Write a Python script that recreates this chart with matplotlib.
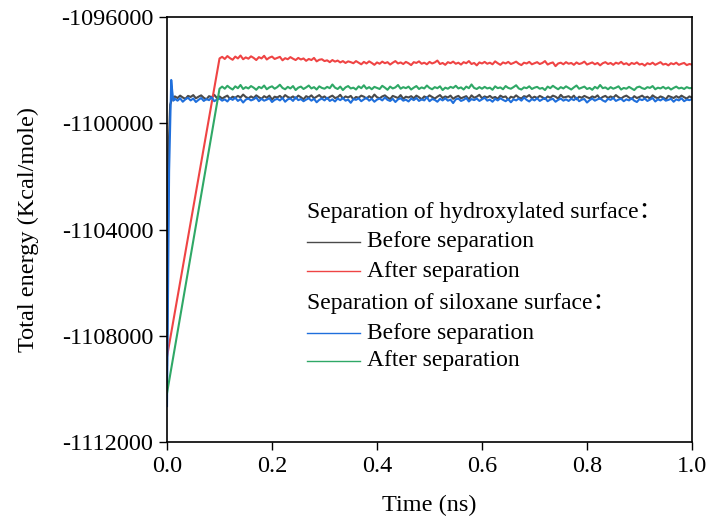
import numpy as np
import matplotlib
matplotlib.use("Agg")
import matplotlib.pyplot as plt
from matplotlib.ticker import FuncFormatter

plt.rcParams['font.family'] = ['Liberation Serif', 'Noto Sans CJK SC', 'DejaVu Sans']
plt.rcParams['axes.unicode_minus'] = False

# --- data ---
# hydroxylated surface, before separation (black)
hyd_before_head_t = [0.0, 0.003, 0.006, 0.010]
hyd_before_head_e = [-1109100, -1101000, -1099300, -1099050]
hyd_before_e = [
    -1098990, -1099050, -1098960, -1099030, -1099080, -1098970, -1099010, -1098940, -1099060, -1099000,
    -1098950, -1099040, -1099100, -1098980, -1099020, -1098930, -1099050, -1098990, -1099070, -1099010,
    -1098960, -1099090, -1099000, -1099040, -1098970, -1099030, -1098920, -1099010, -1099060, -1098990,
    -1099050, -1098950, -1099020, -1099080, -1098980, -1099040, -1098960, -1099110, -1099000, -1099030,
    -1098970, -1099060, -1098940, -1099010, -1099050, -1098990, -1099070, -1098960, -1099020, -1099100,
    -1098980, -1099030, -1098950, -1099060, -1099000, -1098940, -1099040, -1098990, -1099080, -1099010,
    -1098960, -1099050, -1099020, -1098930, -1099070, -1098990, -1099030, -1098970, -1099100, -1099010,
    -1099040, -1098960, -1099000, -1099070, -1098980, -1099050, -1098920, -1099020, -1099060, -1098990,
    -1098950, -1099030, -1099090, -1098970, -1099010, -1099050, -1098940, -1099080, -1099000, -1099030,
    -1098980, -1099060, -1098960, -1099020, -1099100, -1098990, -1099040, -1098950, -1099010, -1099070,
    -1099000, -1098940, -1099050, -1098990, -1099030, -1098960, -1099080, -1099010, -1098970, -1099060,
    -1099020, -1098980, -1099100, -1098950, -1099040, -1099000, -1098930, -1099060, -1098990, -1099030,
    -1098970, -1099050, -1099010, -1099080, -1098960, -1099020, -1098990, -1099110, -1099000, -1099040,
    -1098950, -1099030, -1099070, -1098980, -1099010, -1098940, -1099060, -1099000, -1099050, -1098970,
    -1099020, -1099090, -1098990, -1099040, -1098960, -1099000, -1099070, -1098930, -1099030, -1099010,
    -1098980, -1099050, -1098960, -1099100, -1099000, -1099040, -1098970, -1099020, -1099060, -1098990,
    -1099030, -1098950, -1099080, -1099010, -1098970, -1099050, -1098990, -1099040, -1098940, -1099020,
    -1099070, -1099000, -1098960, -1099030, -1099090, -1098980, -1099050, -1099010, -1098960, -1099040,
    -1099000, -1099070, -1098950, -1099020, -1099060, -1098990, -1099030, -1099100, -1098970, -1099010,
    -1099050, -1098980, -1099040, -1098960, -1099020, -1099070, -1098990, -1099030,
]

# hydroxylated surface, after separation (red)
hyd_after_head_t = [0.0, 0.100]
hyd_after_head_e = [-1108790, -1097560]
hyd_after_e = [
    -1097500, -1097580, -1097470, -1097550, -1097610, -1097490, -1097560, -1097450, -1097590, -1097520,
    -1097570, -1097480, -1097540, -1097620, -1097510, -1097560, -1097460, -1097600, -1097530, -1097490,
    -1097580, -1097540, -1097500, -1097630, -1097550, -1097590, -1097510, -1097570, -1097620, -1097540,
    -1097600, -1097560, -1097650, -1097580, -1097620, -1097540, -1097670, -1097610, -1097590, -1097660,
    -1097630, -1097700, -1097620, -1097680, -1097640, -1097710, -1097660, -1097730, -1097670, -1097700,
    -1097740, -1097660, -1097720, -1097780, -1097690, -1097750, -1097670, -1097730, -1097800, -1097710,
    -1097760, -1097680, -1097740, -1097700, -1097790, -1097720, -1097660, -1097750, -1097710, -1097770,
    -1097690, -1097740, -1097810, -1097700, -1097730, -1097670, -1097760, -1097720, -1097780, -1097690,
    -1097750, -1097710, -1097640, -1097770, -1097730, -1097800, -1097700, -1097740, -1097680, -1097760,
    -1097720, -1097790, -1097700, -1097740, -1097660, -1097770, -1097730, -1097820, -1097710, -1097750,
    -1097690, -1097760, -1097720, -1097780, -1097670, -1097740, -1097800, -1097710, -1097750, -1097690,
    -1097770, -1097730, -1097680, -1097760, -1097810, -1097720, -1097750, -1097690, -1097780, -1097740,
    -1097700, -1097770, -1097730, -1097660, -1097790, -1097740, -1097710, -1097850, -1097750, -1097720,
    -1097780, -1097700, -1097760, -1097730, -1097800, -1097710, -1097770, -1097740, -1097680, -1097790,
    -1097750, -1097710, -1097780, -1097730, -1097820, -1097740, -1097700, -1097770, -1097730, -1097800,
    -1097720, -1097760, -1097690, -1097780, -1097740, -1097810, -1097730, -1097770, -1097710, -1097790,
    -1097760, -1097830, -1097740, -1097780, -1097720, -1097800, -1097750, -1097700, -1097790, -1097760,
    -1097820, -1097740, -1097780, -1097720, -1097800, -1097760, -1097730, -1097810, -1097770, -1097790,
]

# siloxane surface, before separation (blue)
sil_before_head_t = [0.0, 0.004, 0.008, 0.010, 0.012]
sil_before_head_e = [-1110650, -1101800, -1098370, -1098800, -1099150]
sil_before_e = [
    -1099080, -1099150, -1099060, -1099190, -1099100, -1099040, -1099140, -1099070, -1099200, -1099120,
    -1099050, -1099160, -1099090, -1099130, -1099020, -1099170, -1099110, -1099070, -1099150, -1099100,
    -1099180, -1099060, -1099120, -1099040, -1099160, -1099090, -1099220, -1099110, -1099070, -1099140,
    -1099100, -1099030, -1099170, -1099080, -1099150, -1099110, -1099060, -1099200, -1099120, -1099080,
    -1099140, -1099050, -1099190, -1099100, -1099070, -1099160, -1099020, -1099130, -1099090, -1099170,
    -1099110, -1099060, -1099150, -1099080, -1099210, -1099120, -1099070, -1099140, -1099040, -1099160,
    -1099100, -1099180, -1099070, -1099130, -1099050, -1099150, -1099110, -1099230, -1099090, -1099120,
    -1099060, -1099170, -1099100, -1099040, -1099150, -1099080, -1099190, -1099110, -1099070, -1099140,
    -1099030, -1099120, -1099160, -1099080, -1099200, -1099100, -1099060, -1099150, -1099110, -1099180,
    -1099070, -1099130, -1099050, -1099160, -1099100, -1099140, -1099020, -1099170, -1099090, -1099120,
    -1099190, -1099080, -1099140, -1099060, -1099150, -1099110, -1099240, -1099100, -1099070, -1099160,
    -1099120, -1099050, -1099180, -1099090, -1099130, -1099070, -1099160, -1099100, -1099040, -1099150,
    -1099110, -1099190, -1099080, -1099140, -1099060, -1099120, -1099170, -1099090, -1099210, -1099100,
    -1099140, -1099070, -1099150, -1099030, -1099120, -1099180, -1099090, -1099140, -1099060, -1099160,
    -1099100, -1099050, -1099170, -1099110, -1099080, -1099190, -1099120, -1099070, -1099150, -1099100,
    -1099160, -1099080, -1099130, -1099040, -1099170, -1099110, -1099090, -1099220, -1099130, -1099070,
    -1099150, -1099100, -1099060, -1099140, -1099190, -1099080, -1099120, -1099050, -1099160, -1099110,
    -1099080, -1099170, -1099100, -1099140, -1099060, -1099150, -1099200, -1099090, -1099130, -1099070,
    -1099160, -1099110, -1099050, -1099180, -1099100, -1099140, -1099070, -1099150, -1099120, -1099080,
    -1099190, -1099100, -1099140, -1099060, -1099170, -1099110, -1099130, -1099090,
]

# siloxane surface, after separation (green)
sil_after_head_t = [0.0, 0.100]
sil_after_head_e = [-1110160, -1098700]
sil_after_e = [
    -1098620, -1098700, -1098590, -1098670, -1098730, -1098610, -1098680, -1098560, -1098710, -1098640,
    -1098690, -1098600, -1098660, -1098740, -1098630, -1098680, -1098580, -1098720, -1098650, -1098610,
    -1098700, -1098640, -1098550, -1098670, -1098720, -1098630, -1098690, -1098600, -1098750, -1098660,
    -1098620, -1098710, -1098650, -1098580, -1098690, -1098640, -1098730, -1098610, -1098670, -1098700,
    -1098630, -1098680, -1098540, -1098660, -1098710, -1098620, -1098750, -1098650, -1098600, -1098690,
    -1098660, -1098730, -1098610, -1098680, -1098570, -1098700, -1098640, -1098720, -1098630, -1098670,
    -1098710, -1098590, -1098660, -1098740, -1098620, -1098690, -1098650, -1098560, -1098700, -1098640,
    -1098680, -1098620, -1098730, -1098660, -1098600, -1098710, -1098650, -1098690, -1098580, -1098670,
    -1098720, -1098640, -1098680, -1098610, -1098750, -1098660, -1098700, -1098630, -1098670, -1098590,
    -1098690, -1098650, -1098730, -1098620, -1098680, -1098540, -1098670, -1098710, -1098640, -1098700,
    -1098630, -1098690, -1098660, -1098740, -1098610, -1098680, -1098650, -1098720, -1098600, -1098670,
    -1098700, -1098640, -1098570, -1098690, -1098730, -1098650, -1098680, -1098610, -1098710, -1098660,
    -1098630, -1098700, -1098670, -1098750, -1098620, -1098680, -1098590, -1098660, -1098720, -1098640,
    -1098690, -1098610, -1098670, -1098730, -1098650, -1098580, -1098700, -1098660, -1098620, -1098710,
    -1098670, -1098740, -1098630, -1098690, -1098560, -1098680, -1098650, -1098720, -1098640, -1098700,
    -1098660, -1098610, -1098730, -1098670, -1098700, -1098630, -1098690, -1098750, -1098650, -1098620,
    -1098680, -1098710, -1098640, -1098670, -1098600, -1098720, -1098660, -1098690, -1098630, -1098700,
    -1098650, -1098730, -1098670, -1098620, -1098690, -1098660, -1098710, -1098640, -1098680, -1098670,
]

x_ticks = [0.0, 0.2, 0.4, 0.6, 0.8, 1.0]
y_ticks = [-1112000, -1108000, -1104000, -1100000, -1096000]

c_black = '#4a4a4a'
c_red = '#ef4444'
c_blue = '#1f6fdc'
c_green = '#2fa866'

# time grids, 0.005 ns sampling after the initial jump / ramp
t_before = np.linspace(0.015, 1.0, len(hyd_before_e))
t_after = np.linspace(0.105, 1.0, len(hyd_after_e))

fig = plt.figure(figsize=(7.08, 5.2), dpi=100)
ax = fig.add_axes([0.2359, 0.15, 0.7415, 0.8173])

lw = 1.5
ax.plot(hyd_before_head_t + list(t_before), hyd_before_head_e + hyd_before_e, color=c_black, lw=lw)
ax.plot(hyd_after_head_t + list(t_after), hyd_after_head_e + hyd_after_e, color=c_red, lw=lw)
ax.plot(sil_before_head_t + list(t_before), sil_before_head_e + sil_before_e, color=c_blue, lw=lw)
ax.plot(sil_after_head_t + list(t_after), sil_after_head_e + sil_after_e, color=c_green, lw=lw)

ax.set_xlim(0, 1.0)
ax.set_ylim(-1112000, -1096000)
ax.set_xticks(x_ticks)
ax.set_yticks(y_ticks)
ax.yaxis.set_major_formatter(FuncFormatter(lambda v, p: '%d' % v))
ax.xaxis.set_major_formatter(FuncFormatter(lambda v, p: '%.1f' % v))
ax.tick_params(direction='out', length=6, width=1.0, labelsize=17.5, pad=4,
               top=False, right=False)
for s in ax.spines.values():
    s.set_linewidth(1.2)

ax.set_xlabel('Time (ns)', fontsize=17.5, labelpad=13)
ax.set_ylabel('Total energy (Kcal/mole)', fontsize=17.5, labelpad=16)

# legend block drawn by hand (two group headers)
fs_leg = 17
rows = [
    ('Separation of hydroxylated surface：', None, 0.539),
    ('Before separation', c_black, 0.471),
    ('After separation', c_red, 0.402),
    ('Separation of siloxane surface：', None, 0.327),
    ('Before separation', c_blue, 0.256),
    ('After separation', c_green, 0.191),
]
for label, col, yy in rows:
    if col is None:
        ax.text(0.2667, yy, label, transform=ax.transAxes, fontsize=fs_leg,
                va='center', ha='left')
    else:
        ax.plot([0.2667, 0.3676], [yy, yy], transform=ax.transAxes, color=col, lw=1.0)
        ax.text(0.381, yy, label, transform=ax.transAxes, fontsize=fs_leg,
                va='center', ha='left')

fig.savefig('out.png', dpi=100)
